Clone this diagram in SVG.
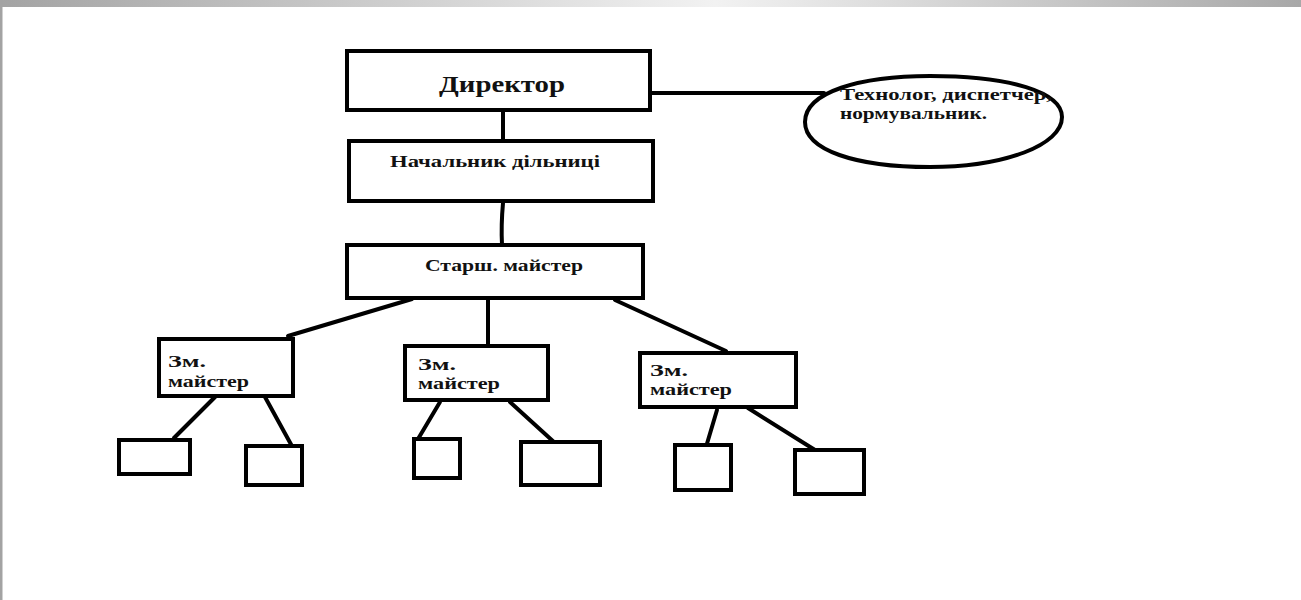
<svg xmlns="http://www.w3.org/2000/svg" width="1301" height="600" viewBox="0 0 1301 600">
<defs>
<linearGradient id="topband" x1="0" y1="0" x2="1" y2="0">
<stop offset="0" stop-color="#a3a3a3"/>
<stop offset="0.55" stop-color="#f2f2f2"/>
<stop offset="1" stop-color="#a8a8a8"/>
</linearGradient>
</defs>
<style>
.box{fill:#fff;stroke:#000;stroke-width:4}
.ln{stroke:#000;stroke-width:4;fill:none;stroke-linecap:round}
.t{font-family:"Liberation Serif",serif;font-weight:bold;fill:#111}
</style>
<rect x="0" y="0" width="1301" height="600" fill="#fff"/>
<rect x="0" y="0" width="1301" height="7" fill="url(#topband)"/>
<rect x="0" y="0" width="2.5" height="600" fill="#a3a3a3"/>
<g id="connectors">
<line class="ln" x1="503" y1="112" x2="503" y2="140"/>
<line class="ln" x1="652" y1="93" x2="824" y2="93"/>
<path class="ln" d="M503 203 Q501 225 502 245"/>
<line class="ln" x1="412" y1="299" x2="288" y2="336"/>
<line class="ln" x1="488" y1="300" x2="488" y2="345"/>
<line class="ln" x1="615" y1="300" x2="726" y2="351"/>
<line class="ln" x1="215" y1="397" x2="174" y2="438"/>
<line class="ln" x1="265" y1="397" x2="293" y2="448"/>
<line class="ln" x1="440" y1="402" x2="418" y2="439"/>
<line class="ln" x1="510" y1="402" x2="555" y2="443"/>
<line class="ln" x1="717" y1="410" x2="706" y2="447"/>
<line class="ln" x1="748" y1="408" x2="815" y2="450"/>
</g>
<g id="director">
<rect class="box" x="347" y="51" width="303" height="59"/>
<text class="t" x="439" y="92" font-size="23" textLength="126" lengthAdjust="spacingAndGlyphs">Директор</text>
</g>
<g id="staff">
<path class="box" d="M805 122 C805 92 860 76 930 76 C1010 76 1062 92 1062 117 C1062 145 1005 167 930 167 C855 167 805 150 805 122 Z"/>
<text class="t" x="840" y="100" font-size="17" textLength="212" lengthAdjust="spacingAndGlyphs">Технолог, диспетчер,</text>
<text class="t" x="840" y="119" font-size="17" textLength="147" lengthAdjust="spacingAndGlyphs">нормувальник.</text>
</g>
<g id="head">
<rect class="box" x="349" y="141" width="304" height="60"/>
<text class="t" x="390" y="167" font-size="17" textLength="210" lengthAdjust="spacingAndGlyphs">Начальник дільниці</text>
</g>
<g id="senior">
<rect class="box" x="347" y="245" width="296" height="53"/>
<text class="t" x="425" y="271" font-size="17" textLength="158" lengthAdjust="spacingAndGlyphs">Старш. майстер</text>
</g>
<g id="deputy1">
<rect class="box" x="159" y="339" width="134" height="57"/>
<text class="t" x="168" y="367" font-size="17" textLength="38" lengthAdjust="spacingAndGlyphs">Зм.</text>
<text class="t" x="168" y="387" font-size="17" textLength="81" lengthAdjust="spacingAndGlyphs">майстер</text>
</g>
<g id="deputy2">
<rect class="box" x="405" y="346" width="143" height="54"/>
<text class="t" x="418" y="370" font-size="17" textLength="38" lengthAdjust="spacingAndGlyphs">Зм.</text>
<text class="t" x="418" y="389" font-size="17" textLength="82" lengthAdjust="spacingAndGlyphs">майстер</text>
</g>
<g id="deputy3">
<rect class="box" x="640" y="353" width="156" height="54"/>
<text class="t" x="650" y="376" font-size="17" textLength="38" lengthAdjust="spacingAndGlyphs">Зм.</text>
<text class="t" x="650" y="395" font-size="17" textLength="82" lengthAdjust="spacingAndGlyphs">майстер</text>
</g>
<g id="w1"><rect class="box" x="119" y="440" width="71" height="34"/></g>
<g id="w2"><rect class="box" x="246" y="446" width="56" height="39"/></g>
<g id="w3"><rect class="box" x="414" y="439" width="46" height="39"/></g>
<g id="w4"><rect class="box" x="521" y="442" width="79" height="43"/></g>
<g id="w5"><rect class="box" x="675" y="445" width="56" height="45"/></g>
<g id="w6"><rect class="box" x="795" y="450" width="69" height="44"/></g>
</svg>
